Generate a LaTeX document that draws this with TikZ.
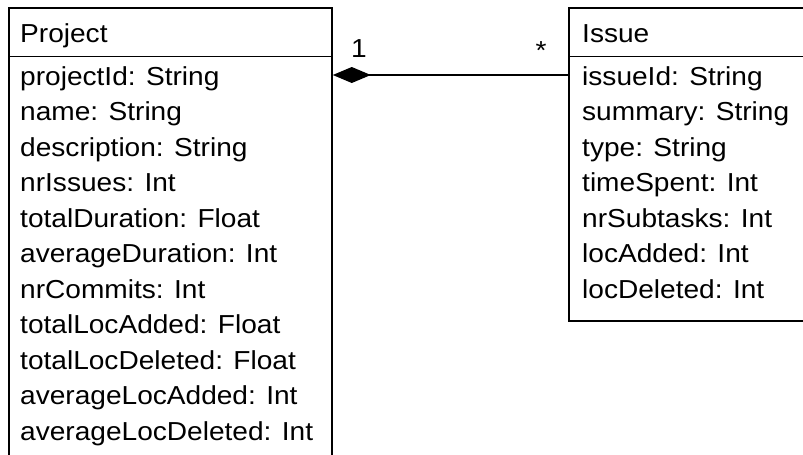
\documentclass[tikz,border=0pt]{standalone}
\usepackage{fontspec}
\setmainfont{Liberation Sans}[FakeStretch=1.08]
\usetikzlibrary{arrows.meta}
\begin{document}
\begin{tikzpicture}[x=1pt,y=-1pt,
  classbox/.style={draw=black, line width=1.8pt, rectangle, inner sep=0pt, anchor=north west},
  divider/.style={draw=black, line width=1.8pt},
  attr/.style={anchor=base west, inner sep=0pt, font=\fontsize{26}{30}\selectfont},
  mult/.style={inner sep=0pt, font=\fontsize{26}{30}\selectfont},
  assoc/.style={draw=black, line width=1.8pt, -{Diamond[length=38pt,width=16pt]}}]
\useasboundingbox (0,0) rectangle (803,455);
\begin{scope}
\clip (0,0) rectangle (803,455);
% Project class
\node[classbox, minimum width=323pt, minimum height=460pt] (project) at (8,7) {};
\coordinate (pdiv) at (8,56.5);
\draw[divider] (project.west |- pdiv) -- (project.east |- pdiv);
\node[attr] (ptitle) at (20,42.5) {Project};
\foreach \t [count=\i from 0] in {projectId: String, name: String, description: String, nrIssues: Int, totalDuration: Float, averageDuration: Int, nrCommits: Int, totalLocAdded: Float, totalLocDeleted: Float, averageLocAdded: Int, averageLocDeleted: Int}
  \node[attr] (pa\i) at (20,85+35.5*\i) {\t};
% Issue class
\node[classbox, minimum width=250pt, minimum height=313pt] (issue) at (568,7) {};
\draw[divider] (issue.west |- pdiv) -- (issue.east |- pdiv);
\node[attr] (ititle) at (582,42.5) {Issue};
\foreach \t [count=\i from 0] in {issueId: String, summary: String, type: String, timeSpent: Int, nrSubtasks: Int, locAdded: Int, locDeleted: Int}
  \node[attr] (ia\i) at (582,85+35.5*\i) {\t};
% Composition
\coordinate (arow) at (0,75);
\draw[assoc] (issue.west |- arow) -- (project.east |- arow);
\node[mult, anchor=base] (m1) at (359,57) {1};
\node[mult] (m2) at (541,50.5) {*};
\end{scope}
\end{tikzpicture}
\end{document}
